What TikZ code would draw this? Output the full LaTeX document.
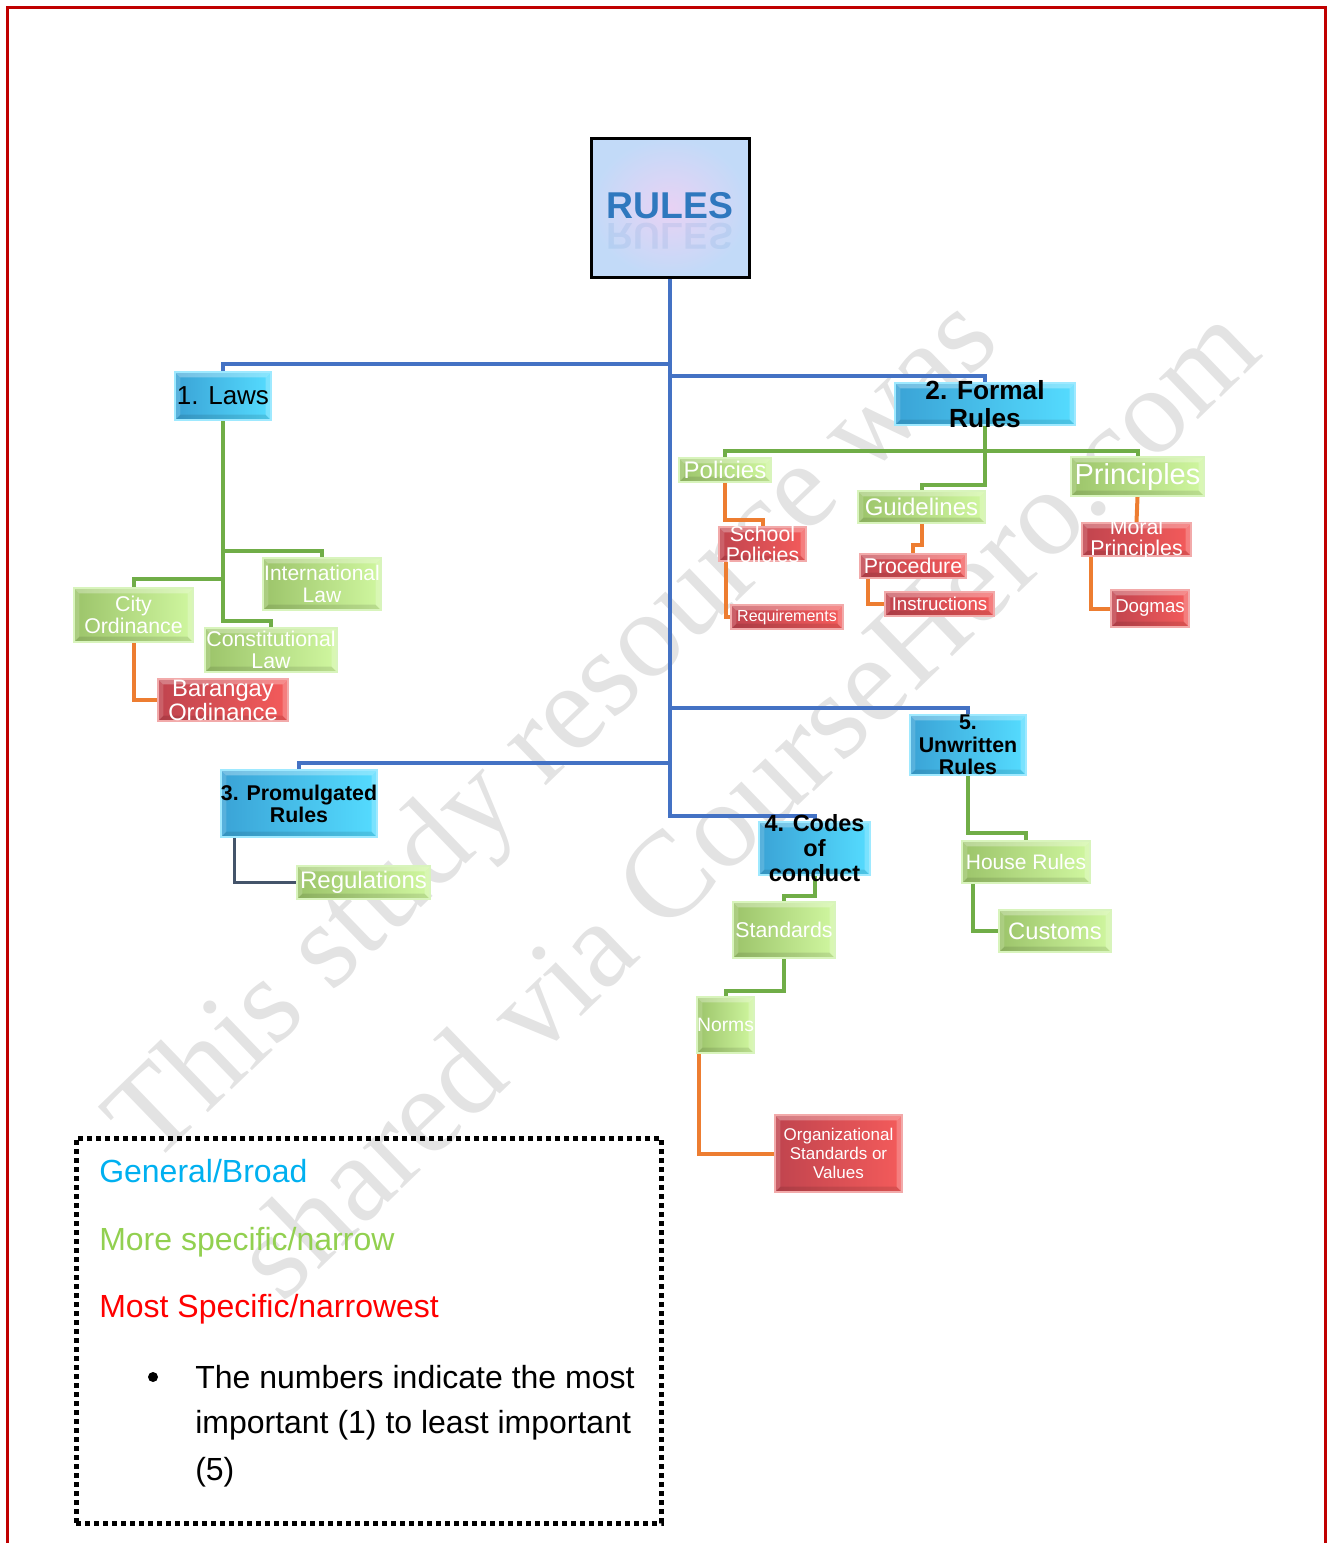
\documentclass[tikz,border=0pt]{standalone}
\usepackage{fontspec}
\setmainfont{Liberation Sans}
\newfontfamily\wmfont{Liberation Serif}
\usetikzlibrary{fit,calc}
\pgfdeclarelayer{wmlayer}
\pgfdeclarelayer{bglayer}
\pgfsetlayers{wmlayer,bglayer,main}
\definecolor{bluetrunk}{HTML}{4472C4}
\definecolor{grline}{HTML}{70AD47}
\definecolor{orline}{HTML}{ED7D31}
\definecolor{slline}{HTML}{44546A}
\definecolor{bluelight}{HTML}{55DCFF}
\definecolor{bluedark}{HTML}{3AA3D6}
\definecolor{blueedge}{HTML}{9EE9FF}
\definecolor{grlight}{HTML}{D0F7A0}
\definecolor{grdark}{HTML}{9CC46A}
\definecolor{gredge}{HTML}{D8F4BC}
\definecolor{rdlight}{HTML}{F45B5B}
\definecolor{rddark}{HTML}{C0444E}
\definecolor{rdedge}{HTML}{F2AAAA}
\definecolor{pageborder}{HTML}{C00000}
\definecolor{legblue}{HTML}{00B0F0}
\definecolor{leggreen}{HTML}{92D050}
\definecolor{legred}{HTML}{FF0000}
\definecolor{rulesblue}{HTML}{2F78BE}
\definecolor{rulesin}{HTML}{E8D2F4}
\definecolor{rulesout}{HTML}{C2DAF8}
\definecolor{wmgray}{HTML}{E3E3E3}
\newcommand\myfs[2]{\fontsize{#1pt}{#2pt}\selectfont}
\newcommand\mybox[8]{%
  \node[#1, fit={(#3,#4) (#5,#6)}, inner sep=0pt] (#2) {};
  \node[#7, align=center, inner sep=0pt] (#2-t) at (#2.center) {#8};
}
\begin{document}
\begin{tikzpicture}[x=0.75pt,y=-0.75pt,
  blueln/.style={draw=bluetrunk,line width=3pt},
  greenln/.style={draw=grline,line width=3pt},
  orangeln/.style={draw=orline,line width=3pt},
  slateln/.style={draw=slline,line width=2.25pt},
  bevel/.style={path picture={
    \fill[white,opacity=.30] (path picture bounding box.north west) -- (path picture bounding box.north east)
      -- ([shift={(-4pt,-4pt)}]path picture bounding box.north east) -- ([shift={(4pt,-4pt)}]path picture bounding box.north west) -- cycle;
    \fill[white,opacity=.15] (path picture bounding box.north west) -- ([shift={(4pt,-4pt)}]path picture bounding box.north west)
      -- ([shift={(4pt,4pt)}]path picture bounding box.south west) -- (path picture bounding box.south west) -- cycle;
    \fill[black,opacity=.10] (path picture bounding box.south west) -- ([shift={(4pt,4pt)}]path picture bounding box.south west)
      -- ([shift={(-4pt,4pt)}]path picture bounding box.south east) -- (path picture bounding box.south east) -- cycle;
    \fill[white,opacity=.22] (path picture bounding box.south east) -- ([shift={(-4pt,4pt)}]path picture bounding box.south east)
      -- ([shift={(-4pt,-4pt)}]path picture bounding box.north east) -- (path picture bounding box.north east) -- cycle;
  }},
  bbox/.style={draw=blueedge,line width=1.5pt,left color=bluedark,right color=bluelight,bevel},
  gbox/.style={draw=gredge,line width=1.5pt,left color=grdark,right color=grlight,bevel},
  rbox/.style={draw=rdedge,line width=1.5pt,left color=rddark,right color=rdlight,bevel},
  btext/.style={text=black},
  wtext/.style={text=white},
  legtext/.style={anchor=base west,inner sep=0pt,font=\myfs{24}{28}},
  wmstyle/.style={text=wmgray,font={\wmfont\myfs{92}{100}}}
]
\useasboundingbox (0,0) rectangle (1330,1543);

% watermark
\begin{pgfonlayer}{wmlayer}
\node[wmstyle, rotate=44] (wm1) at (557,735) {This study resource was};
\node[wmstyle, rotate=44] (wm2) at (745,800) {shared via CourseHero.com};
\end{pgfonlayer}

% page border
\draw[pageborder, line width=2.25pt] (7,1546) -- (7,7) -- (1325,7) -- (1325,1546);

% root
\node[fit={(591,138) (749,277)}, inner sep=0pt, draw=black, line width=2.25pt,
      shade, shading=radial, inner color=rulesin, outer color=rulesout] (rules) {};
\node[font={\bfseries\myfs{28}{32}}, text=rulesblue, inner sep=0pt, yscale=-1, opacity=.10] (rules-r) at (670,236) {RULES};
\node[font={\bfseries\myfs{28}{32}}, text=rulesblue, inner sep=0pt] (rules-t) at (670,206) {RULES};

% level 1 (blue)
\mybox{bbox}{laws}{175}{372}{271}{420}{btext,font={\myfs{19.5}{23}}}{1. Laws}
\mybox{bbox}{formal}{895}{383}{1075}{425}{btext,font={\bfseries\myfs{19.7}{21}}}{2. Formal\\Rules}
\mybox{bbox}{prom}{221}{770}{377}{837}{btext,font={\bfseries\myfs{16}{16.5}}}{3. Promulgated\\Rules}
\mybox{bbox}{codes}{759}{822}{870}{875}{btext,font={\bfseries\myfs{17.6}{18.75}}}{4. Codes\\of\\conduct}
\mybox{bbox}{unwr}{910}{715}{1026}{775}{btext,font={\bfseries\myfs{16}{16.9}}}{5.\\Unwritten\\Rules}

% green boxes
\mybox{gbox}{pol}{679}{458}{771}{482}{wtext,font={\myfs{18}{20}}}{Policies}
\mybox{gbox}{princ}{1071}{457}{1204}{496}{wtext,font={\myfs{21.75}{24}}}{Principles}
\mybox{gbox}{guide}{858}{491}{985}{523}{wtext,font={\myfs{18}{20}}}{Guidelines}
\mybox{gbox}{intl}{263}{558}{381}{610}{wtext,font={\myfs{15.75}{16.5}}}{International\\Law}
\mybox{gbox}{city}{74}{588}{193}{642}{wtext,font={\myfs{16}{16.5}}}{City\\Ordinance}
\mybox{gbox}{const}{205}{628}{337}{672}{wtext,font={\myfs{16}{16.5}}}{Constitutional\\Law}
\mybox{gbox}{reg}{297}{866}{430}{899}{wtext,font={\myfs{18}{20}}}{Regulations}
\mybox{gbox}{std}{733}{902}{835}{958}{wtext,font={\myfs{16}{18}}}{Standards}
\mybox{gbox}{norms}{697}{997}{754}{1053}{wtext,font={\myfs{14.5}{16}}}{Norms}
\mybox{gbox}{house}{962}{841}{1090}{883}{wtext,font={\myfs{15.75}{18}}}{House Rules}
\mybox{gbox}{cust}{999}{910}{1111}{952}{wtext,font={\myfs{17.8}{20}}}{Customs}

% red boxes
\mybox{rbox}{school}{719}{527}{806}{561}{wtext,font={\myfs{16}{15.75}}}{School\\Policies}
\mybox{rbox}{req}{731}{605}{843}{629}{wtext,font={\myfs{12}{14}}}{Requirements}
\mybox{rbox}{proc}{860}{554}{966}{578}{wtext,font={\myfs{16}{18}}}{Procedure}
\mybox{rbox}{instr}{885}{592}{994}{616}{wtext,font={\myfs{14}{16}}}{Instructions}
\mybox{rbox}{moral}{1082}{523}{1191}{556}{wtext,font={\myfs{16}{15.75}}}{Moral\\Principles}
\mybox{rbox}{dog}{1111}{590}{1189}{627}{wtext,font={\myfs{14}{16}}}{Dogmas}
\mybox{rbox}{bar}{158}{679}{288}{721}{wtext,font={\myfs{17.8}{18}}}{Barangay\\Ordinance}
\mybox{rbox}{org}{775}{1115}{902}{1192}{wtext,font={\myfs{12.75}{14.25}}}{Organizational\\Standards or\\Values}

% connectors
\begin{pgfonlayer}{bglayer}
\draw[blueln] (rules.south) |- ([yshift=3.75pt]codes.north) -- (codes.north);
\draw[blueln] (laws.north) -- ([yshift=5.25pt]laws.north) -| (rules.south);
\draw[blueln] (formal.north) -- ([yshift=4.5pt]formal.north) -| (rules.south);
\draw[blueln] (unwr.north) -- ([yshift=4.5pt]unwr.north) -| (rules.south);
\draw[blueln] (prom.north) -- ([yshift=4.5pt]prom.north) -| (rules.south);

\draw[greenln] (laws.south) |- ([yshift=4.5pt]intl.north) -- (intl.north);
\draw[greenln] (laws.south) |- ([yshift=6pt]city.north) -- (city.north);
\draw[greenln] (laws.south) |- ([yshift=4.5pt]const.north) -- (const.north);
\draw[greenln] (formal.south) |- ([yshift=4.5pt]pol.north) -- (pol.north);
\draw[greenln] (formal.south) |- ([yshift=3.75pt]princ.north) -- (princ.north);
\draw[greenln] (formal.south) |- ([yshift=3.75pt]guide.north) -- (guide.north);
\draw[greenln] (codes.south) |- ([yshift=3.75pt]std.north) -- (std.north);
\draw[greenln] (std.south) |- ([yshift=3.75pt]norms.north) -- (norms.north);
\draw[greenln] (unwr.south) |- ([yshift=5.25pt]house.north) -- (house.north);
\draw[greenln] ([xshift=9pt]house.south west) |- (cust.west);

\draw[orangeln] (pol.south) |- ([yshift=4.5pt]school.north) -- (school.north);
\draw[orangeln] ([xshift=6pt]school.south west) |- (req.west);
\draw[orangeln] (guide.south) |- ([yshift=6pt]proc.north) -- (proc.north);
\draw[orangeln] ([xshift=6.75pt]proc.south west) |- (instr.west);
\draw[orangeln] (princ.south) -- (moral.north);
\draw[orangeln] ([xshift=7.5pt]moral.south west) |- (dog.west);
\draw[orangeln] (city.south) |- (bar.west);
\draw[orangeln] ([xshift=2.25pt]norms.south west) |- (org.west);

\draw[slateln] ([xshift=10.5pt]prom.south west) |- (reg.west);
\end{pgfonlayer}

% legend
\node[draw=black, line width=3.75pt, dash pattern=on 4pt off 2.75pt,
      fit={(76,1138) (661,1523)}, inner sep=0pt] (legend) {};
\node[legtext, text=legblue] (lg1) at (99,1182) {General/Broad};
\node[legtext, text=leggreen] (lg2) at (99,1250) {More specific/narrow};
\node[legtext, text=legred] (lg3) at (99,1317) {Most Specific/narrowest};
\node[circle, fill=black, minimum size=7.5pt, inner sep=0pt] (bullet) at (153,1377) {};
\node[legtext] (note1) at (195,1388) {The numbers indicate the most};
\node[legtext] (note2) at (195,1433) {important (1) to least important};
\node[legtext] (note3) at (195,1480) {(5)};
\end{tikzpicture}
\end{document}
